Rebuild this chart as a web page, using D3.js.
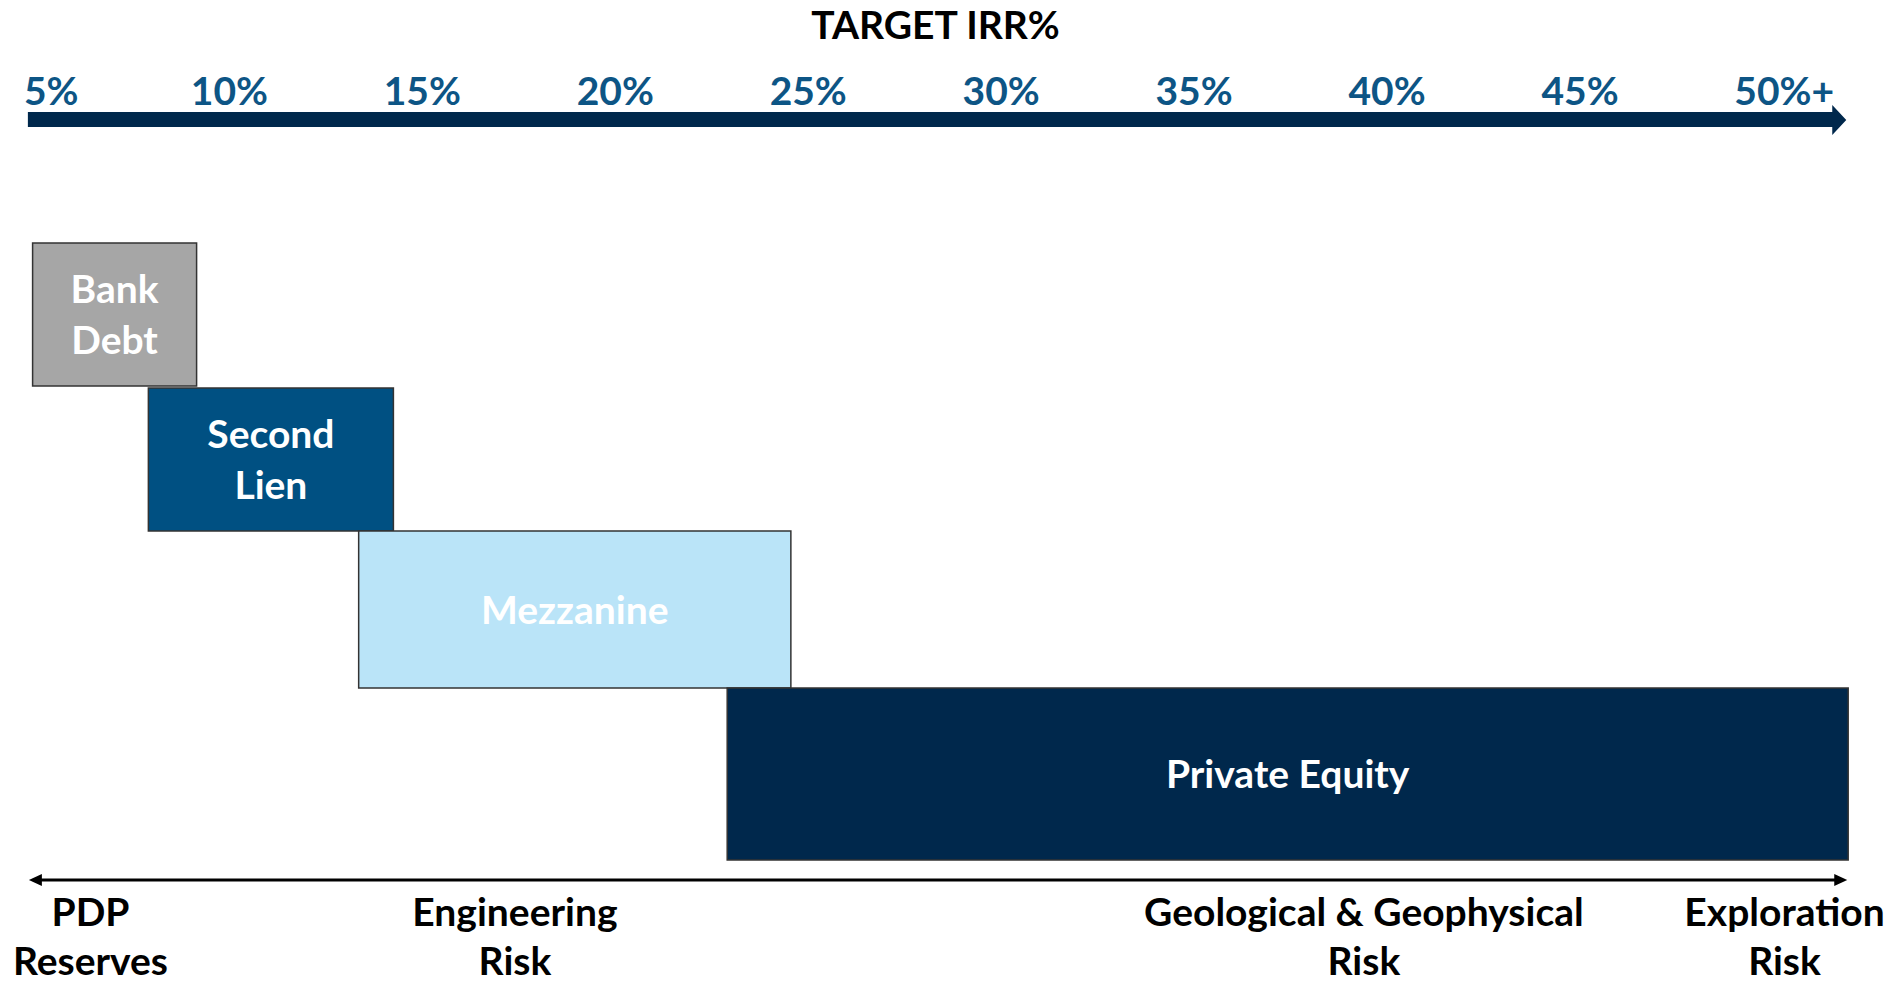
<!DOCTYPE html>
<html>
<head>
<meta charset="utf-8">
<script src="https://cdn.jsdelivr.net/npm/d3@7"></script>
<style>
  body { margin: 0; background: #fff; }
  svg { display: block; }
  text { font-family: Lato, "Open Sans", sans-serif; font-weight: 700; }
</style>
</head>
<body>
<div class="chart"></div>
<script>
var w = 1893,
    h = 984;

// target IRR axis
var irrTicks = [5, 10, 15, 20, 25, 30, 35, 40, 45, 50];
var irrTickLabels = ["5%", "10%", "15%", "20%", "25%", "30%", "35%", "40%", "45%", "50%+"];
var axisStart = 4.7,
    axisEnd = 51.9;

// financing tranches, IRR range covered by each box
var tranches = ["Bank Debt", "Second Lien", "Mezzanine", "Private Equity"];
var trancheLines = [["Bank", "Debt"], ["Second", "Lien"], ["Mezzanine"], ["Private Equity"]];
var trancheLow = [4.9, 7.9, 13.35, 22.9];
var trancheHigh = [9.15, 14.25, 24.55, 51.95];

// risk spectrum along the bottom
var riskLines = [["PDP", "Reserves"], ["Engineering", "Risk"], ["Geological & Geophysical", "Risk"], ["Exploration", "Risk"]];
var riskAt = [6.4, 17.4, 39.4, 50.3];

var fills = ["#a6a6a6", "#005082", "#bae4f8", "#00284c"];
var fs = 39;

var svg = d3.select("body").select(".chart").append("svg")
  .attr("width", w)
  .attr("height", h);

var x = d3.scaleLinear()
  .domain([10, 45])
  .range([229.4, 1580]);

// vertical band of each tranche box
var rowTop = d3.scaleOrdinal().domain(tranches).range([243, 388, 531, 688]);
var rowBottom = d3.scaleOrdinal().domain(tranches).range([386, 531, 688, 860]);

// title
svg.append("text")
  .attr("x", (x(axisStart) + x(axisEnd)) / 2)
  .attr("y", 39)
  .attr("text-anchor", "middle")
  .style("font-size", fs + "px")
  .style("fill", "#000")
  .text("TARGET IRR%");

// tick labels
irrTicks.forEach(function(v, i) {
  var t = svg.append("text")
    .attr("y", 105)
    .style("font-size", fs + "px")
    .style("fill", "#0d5585")
    .text(irrTickLabels[i].replace("+", ""));
  var wd = t.node().getComputedTextLength();
  t.attr("x", Math.max(x(v) - wd / 2, 24))
    .text(irrTickLabels[i]);
});

// top arrow
var ax0 = x(axisStart) + 3,
    ax1 = x(axisEnd);
svg.append("polygon")
  .attr("points", [
    [ax0, 112], [ax1 - 14, 112], [ax1 - 14, 105], [ax1, 120],
    [ax1 - 14, 135], [ax1 - 14, 127], [ax0, 127]
  ].join(" "))
  .style("fill", "#00284c");

// tranche boxes
svg.selectAll("rect.tranche")
  .data(tranches)
  .enter()
  .append("rect")
  .attr("class", "tranche")
  .attr("x", function(d, i) { return x(trancheLow[i]); })
  .attr("y", function(d) { return rowTop(d); })
  .attr("width", function(d, i) { return x(trancheHigh[i]) - x(trancheLow[i]); })
  .attr("height", function(d) { return rowBottom(d) - rowTop(d); })
  .style("fill", function(d, i) { return fills[i]; })
  .style("stroke", "#333")
  .style("stroke-width", 1.5);

tranches.forEach(function(d, i) {
  var cx = (x(trancheLow[i]) + x(trancheHigh[i])) / 2,
      cy = (rowTop(d) + rowBottom(d)) / 2,
      lines = trancheLines[i],
      lh = 51;
  var t = svg.append("text")
    .attr("text-anchor", "middle")
    .style("font-size", fs + "px")
    .style("fill", "#fff");
  lines.forEach(function(s, j) {
    t.append("tspan")
      .attr("x", cx)
      .attr("y", cy + 14 + (j - (lines.length - 1) / 2) * lh)
      .text(s);
  });
});

// bottom double arrow
var bx0 = x(axisStart) + 4,
    bx1 = x(axisEnd) + 1,
    by = 880;
svg.append("line")
  .attr("x1", bx0 + 8).attr("x2", bx1 - 8)
  .attr("y1", by).attr("y2", by)
  .style("stroke", "#000")
  .style("stroke-width", 3);
svg.append("polygon")
  .attr("points", [[bx0, by], [bx0 + 13, by - 6], [bx0 + 13, by + 6]].join(" "))
  .style("fill", "#000");
svg.append("polygon")
  .attr("points", [[bx1, by], [bx1 - 13, by - 6], [bx1 - 13, by + 6]].join(" "))
  .style("fill", "#000");

// risk labels
riskLines.forEach(function(lines, i) {
  var t = svg.append("text")
    .attr("text-anchor", "middle")
    .style("font-size", fs + "px")
    .style("fill", "#000");
  lines.forEach(function(s, j) {
    t.append("tspan")
      .attr("x", x(riskAt[i]))
      .attr("y", 926 + j * 49)
      .text(s);
  });
});
</script>
</body>
</html>
